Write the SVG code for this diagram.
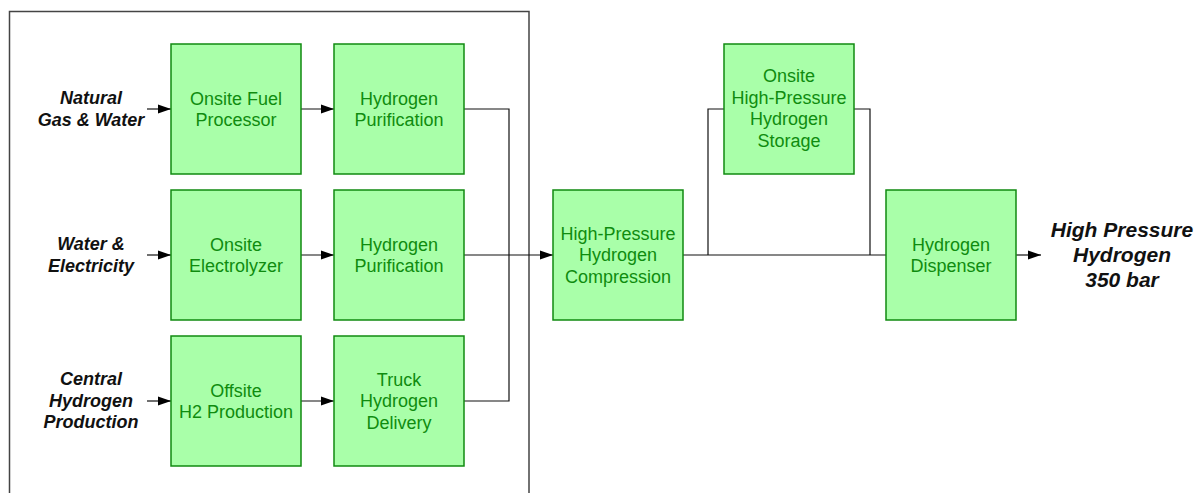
<svg xmlns="http://www.w3.org/2000/svg" width="1199" height="493" viewBox="0 0 1199 493">
  <style>
    .box { fill: #a9ffa9; stroke: #118a11; stroke-width: 1.5; }
    .btxt { font-family: "Liberation Sans", Arial, sans-serif; font-size: 18px; fill: #0f8c0f; text-anchor: middle; }
    .lbl { font-family: "Liberation Sans", Arial, sans-serif; font-size: 18px; font-weight: bold; font-style: italic; fill: #111; text-anchor: middle; }
    .out { font-family: "Liberation Sans", Arial, sans-serif; font-size: 21px; font-weight: bold; font-style: italic; fill: #111; text-anchor: middle; }
    .wire { fill: none; stroke: #111; stroke-width: 1.2; }
    .frame { fill: none; stroke: #444; stroke-width: 1.5; }
  </style>
  <defs>
    <marker id="arrow" markerUnits="userSpaceOnUse" markerWidth="14" markerHeight="10" refX="13" refY="5" orient="auto">
      <path d="M0,0.5 L13,5 L0,9.5 Z" fill="#000"/>
    </marker>
  </defs>

  <!-- onsite / offsite production enclosure -->
  <path class="frame" d="M9.5,500 V11.5 H529 V500"/>

  <!-- input labels -->
  <g id="in-gas">
    <text class="lbl" x="91" y="104">Natural</text>
    <text class="lbl" x="91" y="126">Gas &amp; Water</text>
  </g>
  <g id="in-water">
    <text class="lbl" x="91" y="250">Water &amp;</text>
    <text class="lbl" x="91" y="272">Electricity</text>
  </g>
  <g id="in-central">
    <text class="lbl" x="91" y="385">Central</text>
    <text class="lbl" x="91" y="407">Hydrogen</text>
    <text class="lbl" x="91" y="428">Production</text>
  </g>

  <!-- connectors -->
  <g id="connectors">
    <path class="wire" d="M147,109 H171" marker-end="url(#arrow)"/>
    <path class="wire" d="M147,255 H171" marker-end="url(#arrow)"/>
    <path class="wire" d="M147,401 H171" marker-end="url(#arrow)"/>
    <path class="wire" d="M301,109 H334" marker-end="url(#arrow)"/>
    <path class="wire" d="M301,255 H334" marker-end="url(#arrow)"/>
    <path class="wire" d="M301,401 H334" marker-end="url(#arrow)"/>
    <path class="wire" d="M464,109 H509 V401 H464"/>
    <path class="wire" d="M464,255 H553" marker-end="url(#arrow)"/>
    <path class="wire" d="M683,255 H886"/>
    <path class="wire" d="M708,255 V109 H724"/>
    <path class="wire" d="M854,109 H870 V255"/>
    <path class="wire" d="M1016,255 H1041" marker-end="url(#arrow)"/>
  </g>

  <g id="fuel-processor">
    <rect class="box" x="171" y="44" width="130" height="130"/>
    <text class="btxt" x="236" y="104.5">Onsite Fuel</text>
    <text class="btxt" x="236" y="126">Processor</text>
  </g>
  <g id="purification-1">
    <rect class="box" x="334" y="44" width="130" height="130"/>
    <text class="btxt" x="399" y="104.5">Hydrogen</text>
    <text class="btxt" x="399" y="126">Purification</text>
  </g>
  <g id="electrolyzer">
    <rect class="box" x="171" y="190" width="130" height="130"/>
    <text class="btxt" x="236" y="250.5">Onsite</text>
    <text class="btxt" x="236" y="272">Electrolyzer</text>
  </g>
  <g id="purification-2">
    <rect class="box" x="334" y="190" width="130" height="130"/>
    <text class="btxt" x="399" y="250.5">Hydrogen</text>
    <text class="btxt" x="399" y="272">Purification</text>
  </g>
  <g id="offsite-production">
    <rect class="box" x="171" y="336" width="130" height="130"/>
    <text class="btxt" x="236" y="396.5">Offsite</text>
    <text class="btxt" x="236" y="418">H2 Production</text>
  </g>
  <g id="truck-delivery">
    <rect class="box" x="334" y="336" width="130" height="130"/>
    <text class="btxt" x="399" y="385.5">Truck</text>
    <text class="btxt" x="399" y="407">Hydrogen</text>
    <text class="btxt" x="399" y="428.5">Delivery</text>
  </g>
  <g id="compression">
    <rect class="box" x="553" y="190" width="130" height="130"/>
    <text class="btxt" x="618" y="239.5">High-Pressure</text>
    <text class="btxt" x="618" y="261">Hydrogen</text>
    <text class="btxt" x="618" y="282.5">Compression</text>
  </g>
  <g id="storage">
    <rect class="box" x="724" y="44" width="130" height="130"/>
    <text class="btxt" x="789" y="82">Onsite</text>
    <text class="btxt" x="789" y="103.5">High-Pressure</text>
    <text class="btxt" x="789" y="125">Hydrogen</text>
    <text class="btxt" x="789" y="146.5">Storage</text>
  </g>
  <g id="dispenser">
    <rect class="box" x="886" y="190" width="130" height="130"/>
    <text class="btxt" x="951" y="250.5">Hydrogen</text>
    <text class="btxt" x="951" y="272">Dispenser</text>
  </g>

  <g id="output">
    <text class="out" x="1122" y="237">High Pressure</text>
    <text class="out" x="1122" y="262">Hydrogen</text>
    <text class="out" x="1122" y="287">350 bar</text>
  </g>
</svg>
